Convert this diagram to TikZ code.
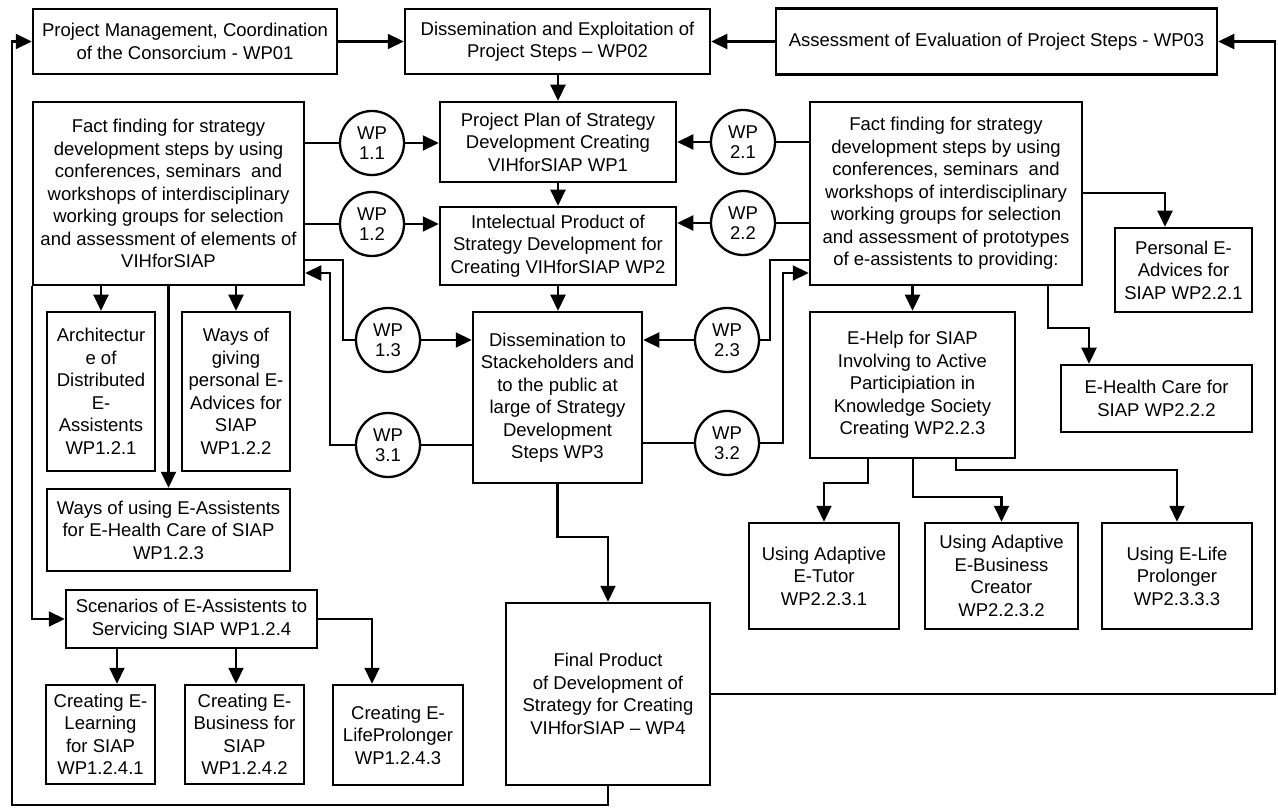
\documentclass[tikz,border=0pt]{standalone}
\usepackage{fontspec}
\setmainfont{Liberation Sans}
\usetikzlibrary{arrows.meta}
\tikzset{
  box/.style={draw, line width=2.5pt, inner sep=0pt, align=center, font=\fontsize{18.5}{22.5}\selectfont},
  circ/.style={draw, circle, line width=2.3pt, minimum size=64pt, inner sep=0pt, align=center, font=\fontsize{18.5}{20}\selectfont},
  conn/.style={line width=2.2pt},
  arr/.style={line width=2.2pt, -{Triangle[length=16pt,width=15pt]}}
}
\newcommand\bx[6]{\node[box,minimum width=#4pt,minimum height=#5pt] (#1) at (#2,#3) {#6};}
\begin{document}
\begin{tikzpicture}[x=1pt,y=-1pt]
\useasboundingbox (0,0) rectangle (1278,810);
% top row
\bx{wp01}{185}{41.5}{304}{65}{Project Management, Coordination\\of the Consorcium - WP01}
\bx{wp02}{557.5}{41.5}{305}{65}{Dissemination and Exploitation of\\Project Steps – WP02}
\bx{wp03}{996.5}{41.5}{441}{66}{Assessment of Evaluation of Project Steps - WP03}
% centre column
\bx{pp}{558}{142}{236}{80}{Project Plan of Strategy\\Development Creating\\VIHforSIAP WP1}
\bx{ip}{558}{246}{236}{78}{Intelectual Product of\\Strategy Development for\\Creating VIHforSIAP WP2}
\bx{ds}{557.5}{397.5}{169}{171}{Dissemination to\\Stackeholders and\\to the public at\\large of Strategy\\Development\\Steps WP3}
\bx{fp}{608}{694}{204}{182}{Final Product\\of Development of\\Strategy for Creating\\VIHforSIAP – WP4}
% left side
\bx{fl}{168.5}{193.5}{271}{183}{Fact finding for strategy\\development steps by using\\conferences, seminars\ \ and\\workshops of interdisciplinary\\working groups for selection\\and assessment of elements of\\VIHforSIAP}
\bx{arch}{101}{391.5}{108}{159}{Architectur\\e of\\Distributed\\E-\\Assistents\\WP1.2.1}
\bx{giv}{236}{391.5}{108}{159}{Ways of\\giving\\personal E-\\Advices for\\SIAP\\WP1.2.2}
\bx{usea}{168.5}{530}{243}{82}{Ways of using E-Assistents\\for E-Health Care of SIAP\\WP1.2.3}
\bx{scen}{191.5}{619}{251}{58}{Scenarios of E-Assistents to\\Servicing SIAP WP1.2.4}
\bx{cel}{100.5}{734.5}{109}{99}{Creating E-\\Learning\\for SIAP\\WP1.2.4.1}
\bx{ceb}{244.5}{734.5}{119}{99}{Creating E-\\Business for\\SIAP\\WP1.2.4.2}
\bx{celp}{398}{735}{130}{100}{Creating E-\\LifeProlonger\\WP1.2.4.3}
% right side
\bx{fr}{946}{193.5}{272}{183}{Fact finding for strategy\\development steps by using\\conferences, seminars\ \ and\\workshops of interdisciplinary\\working groups for selection\\and assessment of prototypes\\of e-assistents to providing:}
\bx{pea}{1183.5}{270}{137}{84}{Personal E-\\Advices for\\SIAP WP2.2.1}
\bx{ehelp}{912.5}{385}{205}{146}{E-Help for SIAP\\Involving to Active\\Participiation in\\Knowledge Society\\Creating WP2.2.3}
\bx{ehc}{1156.5}{398.5}{191}{67}{E-Health Care for\\SIAP WP2.2.2}
\bx{uat}{824}{576}{150}{106}{Using Adaptive\\E-Tutor\\WP2.2.3.1}
\bx{uab}{1001.5}{576}{153}{106}{Using Adaptive\\E-Business\\Creator\\WP2.2.3.2}
\bx{uel}{1177}{576}{150}{106}{Using E-Life\\Prolonger\\WP2.3.3.3}
% circles
\node[circ] (c11) at (372,143) {WP\\1.1};
\node[circ] (c12) at (372,224) {WP\\1.2};
\node[circ] (c21) at (743,142) {WP\\2.1};
\node[circ] (c22) at (743,223) {WP\\2.2};
\node[circ] (c13) at (388,340) {WP\\1.3};
\node[circ] (c31) at (388,445) {WP\\3.1};
\node[circ] (c23) at (727,340) {WP\\2.3};
\node[circ] (c32) at (727,443) {WP\\3.2};
% top row links
\draw[arr] (wp01) -- (wp02);
\draw[arr] (wp03) -- (wp02);
\draw[arr] (pp.north |- wp02.south) -- (pp.north);
\draw[arr] (pp) -- (ip);
\draw[arr] (ip.south) -- (ds.north -| ip.south);
% WP circles
\draw[conn] (fl.east |- c11) -- (c11);
\draw[arr] (c11) -- (pp.west |- c11);
\draw[conn] (fl.east |- c12) -- (c12);
\draw[arr] (c12) -- (ip.west |- c12);
\draw[conn] (fr.west |- c21) -- (c21);
\draw[arr] (c21) -- (pp.east |- c21);
\draw[conn] (fr.west |- c22) -- (c22);
\draw[arr] (c22) -- (ip.east |- c22);
\draw[conn] (fl.east |- 0,260) -- (343,260) |- (c13.west);
\draw[arr] (c13) -- (ds.west |- c13);
\draw[conn] (ds.west |- c31) -- (c31);
\draw[arr] (c31.west) -- (330,445) |- (fl.east |- 0,273);
\draw[conn] (fr.west |- 0,260) -- (770,260) |- (c23.east);
\draw[arr] (c23) -- (ds.east |- c23);
\draw[conn] (ds.east |- c32) -- (c32);
\draw[arr] (c32.east) -- (783,443) |- (fr.west |- 0,273);
% left tree
\draw[arr] (fl.south -| arch.north) -- (arch.north);
\draw[arr] (fl.south -| giv.north) -- (giv.north);
\draw[arr] (fl.south -| usea.north) -- (usea.north);
\draw[arr] (fl.south west) |- (scen.west);
\draw[arr] (scen.south -| 117,0) -- (cel.north -| 117,0);
\draw[arr] (scen.south -| 236,0) -- (ceb.north -| 236,0);
\draw[arr] (scen.east) -| (celp.north -| 372,0);
% right tree
\draw[arr] (fr.east |- 0,193) -| (pea.north -| 1165,0);
\draw[arr] (fr.south -| ehelp.north) -- (ehelp.north);
\draw[arr] (fr.south -| 1048,0) -- (1048,328) -| (ehc.north -| 1089,0);
\draw[arr] (ehelp.south -| 868,0) |- (uat.north |- 0,483) -- (uat.north);
\draw[arr] (ehelp.south -| 913,0) |- (uab.north |- 0,497) -- (uab.north);
\draw[arr] (ehelp.south -| 956,0) |- (uel.north |- 0,470) -- (uel.north);
% final product
\draw[arr] (ds.south) |- (fp.north |- 0,537) -- (fp.north);
\draw[arr] (fp.east) -- (1275,694) |- (wp03.east);
\draw[arr] (fp.south) |- (12,805) |- (wp01.west);
\end{tikzpicture}
\end{document}
